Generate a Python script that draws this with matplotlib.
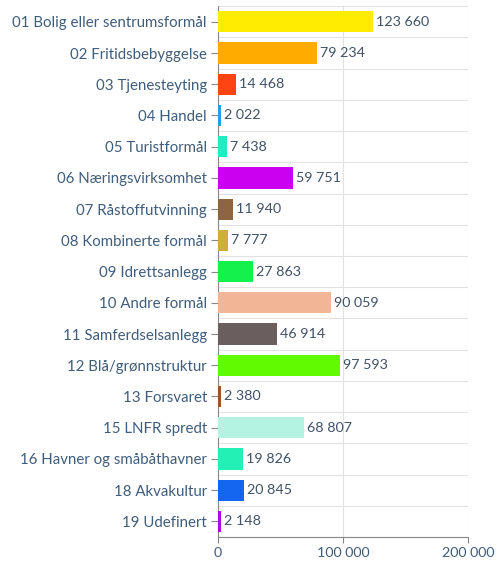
import numpy as np
import matplotlib
matplotlib.use('Agg')
import matplotlib.pyplot as plt

# --- data ---
categories = [
    '01 Bolig eller sentrumsformål',
    '02 Fritidsbebyggelse',
    '03 Tjenesteyting',
    '04 Handel',
    '05 Turistformål',
    '06 Næringsvirksomhet',
    '07 Råstoffutvinning',
    '08 Kombinerte formål',
    '09 Idrettsanlegg',
    '10 Andre formål',
    '11 Samferdselsanlegg',
    '12 Blå/grønnstruktur',
    '13 Forsvaret',
    '15 LNFR spredt',
    '16 Havner og småbåthavner',
    '18 Akvakultur',
    '19 Udefinert',
]
values = [123660, 79234, 14468, 2022, 7438, 59751, 11940, 7777, 27863,
          90059, 46914, 97593, 2380, 68807, 19826, 20845, 2148]
colors = ['#ffec00', '#ffab00', '#ff4414', '#1fa2e8', '#22ecc4', '#cc00f0',
          '#8c6640', '#cfae3c', '#14f04c', '#f2b596', '#6a5e5e', '#62fa00',
          '#a0522d', '#b4f2e2', '#22f0b4', '#1466f0', '#b400e6']
x_ticks = [0, 100000, 200000]

label_col = '#3f5d7c'
value_col = '#405266'

plt.rcParams['font.family'] = ['Lato', 'DejaVu Sans']

fig = plt.figure(figsize=(5, 5.62), dpi=100)
ax = fig.add_axes([0.436, 0.0445, 0.5, 0.9445])

y = np.arange(len(categories))
ax.barh(y, values, height=0.68, color=colors, zorder=3)

for yi, v in zip(y, values):
    ax.text(v + 2500, yi, f'{v:,}'.replace(',', ' '), va='center', ha='left',
            fontsize=10.3, color=value_col, zorder=4)

ax.set_xlim(0, 200000)
ax.set_ylim(len(categories) - 0.5, -0.5)
ax.set_yticks(y)
ax.set_yticklabels(categories, fontsize=10.8, color=label_col)
ax.set_xticks(x_ticks)
ax.set_xticklabels([f'{t:,}'.replace(',', ' ') for t in x_ticks],
                   fontsize=10.3, color=label_col)

# gridlines between categories and at x ticks
ax.set_yticks(np.arange(-0.5, len(categories), 1), minor=True)
ax.grid(which='minor', axis='y', color='#e2e2e2', linewidth=0.8, zorder=0)
ax.grid(which='major', axis='x', color='#e2e2e2', linewidth=0.8, zorder=0)
ax.tick_params(which='minor', length=0)
ax.tick_params(axis='y', which='major', length=5, color='#888888', pad=3)
ax.tick_params(axis='x', which='major', length=4, color='#888888', pad=3)

for s in ['top', 'right']:
    ax.spines[s].set_visible(False)
for s in ['left', 'bottom']:
    ax.spines[s].set_color('#888888')
    ax.spines[s].set_linewidth(0.8)

fig.savefig('out.png', dpi=100)
